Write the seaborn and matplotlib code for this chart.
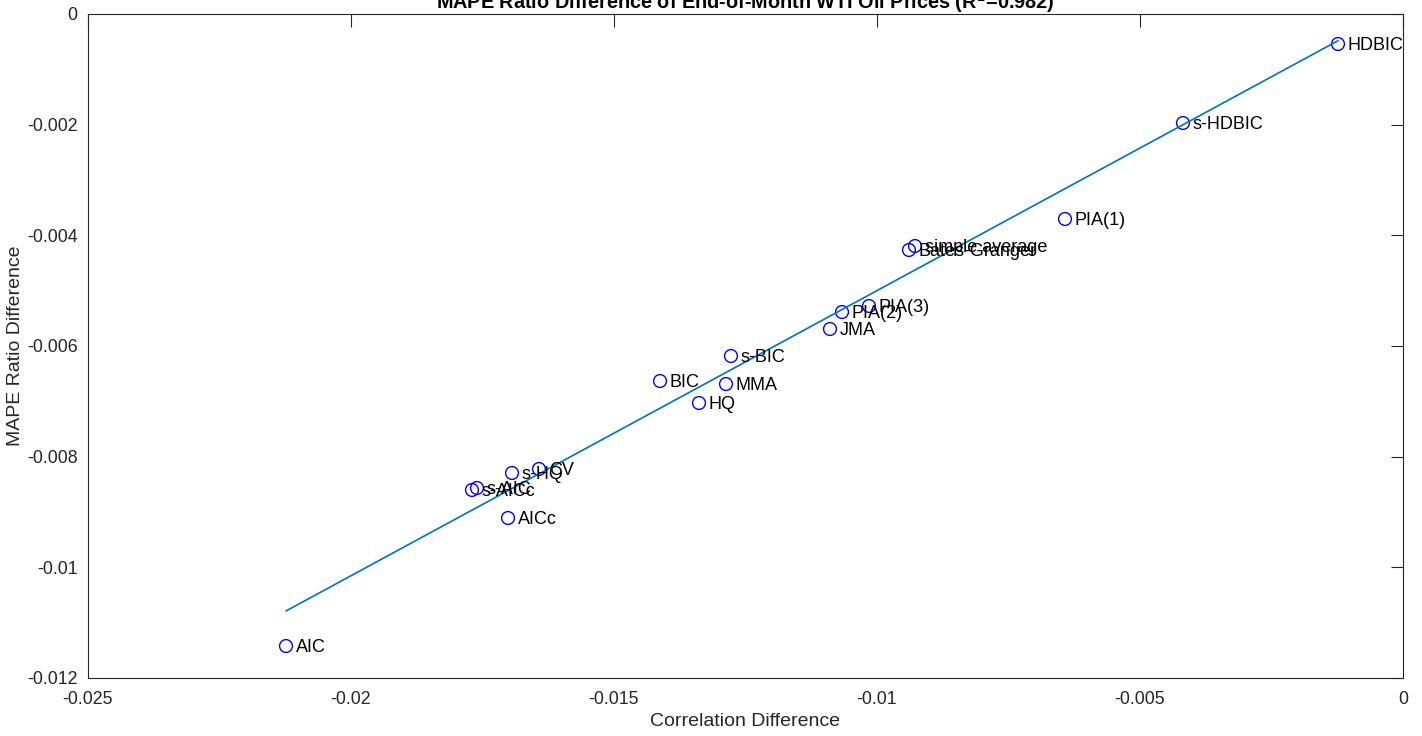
import numpy as np
import pandas as pd
import matplotlib
matplotlib.use("Agg")
import matplotlib.pyplot as plt
import seaborn as sns

methods = ["HDBIC", "s-HDBIC", "PIA(1)", "simple average", "Bates-Granger",
           "PIA(3)", "PIA(2)", "JMA", "s-BIC", "BIC", "MMA", "HQ", "CV",
           "s-HQ", "s-AIC", "s-AICc", "AICc", "AIC"]
corr_diff = [-0.001236, -0.004183, -0.006426, -0.009278, -0.009392,
             -0.010152, -0.010665, -0.010894, -0.012776, -0.014125, -0.012871,
             -0.013384, -0.016426, -0.016939, -0.017605, -0.017700, -0.017015,
             -0.021236]
mape_diff = [-0.000542, -0.001970, -0.003705, -0.004193, -0.004265,
             -0.005277, -0.005386, -0.005693, -0.006181, -0.006633, -0.006687,
             -0.007030, -0.008223, -0.008295, -0.008566, -0.008602, -0.009108,
             -0.011422]
xticks = [-0.025, -0.02, -0.015, -0.01, -0.005, 0]
xticklabels = ["-0.025", "-0.02", "-0.015", "-0.01", "-0.005", "0"]
yticks = [-0.012, -0.01, -0.008, -0.006, -0.004, -0.002, 0]
yticklabels = ["-0.012", "-0.01", "-0.008", "-0.006", "-0.004", "-0.002", "0"]

df = pd.DataFrame({"method": methods, "x": corr_diff, "y": mape_diff})

sns.set_style("white")
plt.rcParams['font.family'] = ['Liberation Sans', 'DejaVu Sans']

fig = plt.figure(figsize=(14.22, 7.36), dpi=100)
ax = fig.add_axes([88/1422, 1-678/736, (1403-88)/1422, (678-14)/736])

# regression line
coef = np.polyfit(df["x"], df["y"], 1)
xs = np.array([df["x"].min(), df["x"].max()])
fit = pd.DataFrame({"x": xs, "y": np.polyval(coef, xs)})
sns.lineplot(data=fit, x="x", y="y", ax=ax, color="#0072BD", linewidth=1.2)

sns.scatterplot(data=df, x="x", y="y", ax=ax, marker="o", s=85,
                facecolors="none", edgecolor="#0000FF", linewidth=1.0)

for _, r in df.iterrows():
    ax.annotate(r["method"], (r["x"], r["y"]), xytext=(7, -1),
                textcoords="offset points", va="center", ha="left",
                fontsize=13, color="black")

ax.set_xlim(-0.025, 0)
ax.set_ylim(-0.012, 0)
ax.set_xticks(xticks)
ax.set_xticklabels(xticklabels)
ax.set_yticks(yticks)
ax.set_yticklabels(yticklabels)
ax.tick_params(direction="in", length=9, width=0.8, labelsize=12.8,
               top=True, right=True, colors="#262626")
ax.tick_params(axis="x", pad=9.5)
ax.tick_params(axis="y", pad=7.5)
for s in ax.spines.values():
    s.set_color("#262626")
    s.set_linewidth(0.8)
ax.set_xlabel("Correlation Difference", fontsize=14, color="#262626",
              va="center")
ax.set_ylabel("MAPE Ratio Difference", fontsize=14, color="#262626",
              va="center")
ax.xaxis.set_label_coords(0.5, -(722 - 678) / 664)
ax.yaxis.set_label_coords((15 - 88) / 1315, 0.5)
fig.text(0.5 * (88 + 1403) / 1422, 1 - 2/736,
         "MAPE Ratio Difference of End-of-Month WTI Oil Prices (R$^2$=0.982)",
         ha="center", va="center", fontsize=14.3, fontweight="bold", color="black")

fig.savefig("out.png", dpi=100)
